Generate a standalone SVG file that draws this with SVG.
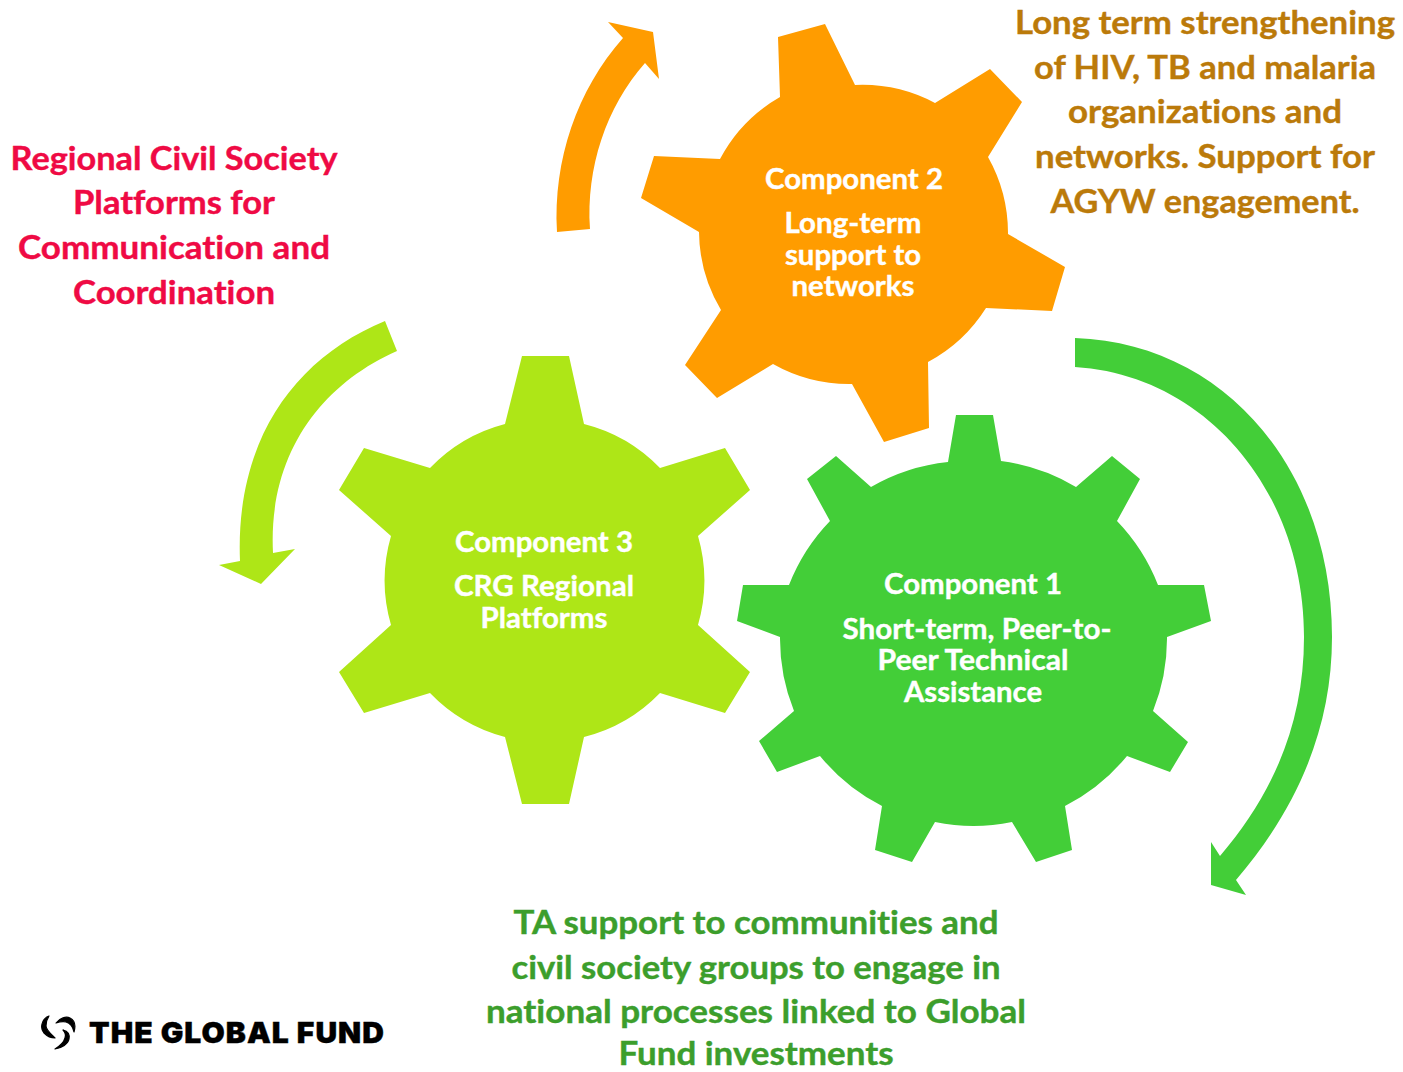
<svg xmlns="http://www.w3.org/2000/svg" width="1403" height="1072" viewBox="0 0 1403 1072">
<style>
text{font-family:"Lato","Carlito","Liberation Sans",sans-serif;font-weight:700;text-anchor:middle;font-variant-ligatures:none;stroke-width:.4px}
.g{font-size:28px;fill:#fff;stroke:#fff}
.l{font-size:32px}
.o{fill:#ff9c00}.d{fill:#43ce38}.y{fill:#aee617}
.to{fill:#bb7a0a;stroke:#bb7a0a}.tr{fill:#ef0a44;stroke:#ef0a44}.tg{fill:#3c9e2c;stroke:#3c9e2c}
.m{fill:#000;stroke:#000;stroke-width:1.2px;stroke-linejoin:round}
</style>
<rect width="1403" height="1072" fill="#fff"/>
<g id="connectors">
<path class="o" d="M557 232C553 160 577 90 623 38L608 22L653 32L659 79L645 63C606 107 586 168 590 229Z"/>
<path class="d" d="M1075 338C1225 343 1332 470 1332 637C1332 730 1296 810 1236 880L1246 895L1211 885L1211 842L1220 856C1272 795 1304 725 1304 637C1304 490 1205 375 1075 367Z"/>
<path class="y" d="M385 321C295 358 235 440 240 561L219 565L261 584L295 549L273 553C268 455 320 385 397 351Z"/>
</g>
<g id="component2">
<path class="o" d="M778 37L825 24L855 85A155 155 0 0 1 935 103L990 69L1022 102L988 157A155 155 0 0 1 1008 234L1065 267L1052 311L986 308A155 155 0 0 1 928 362L929 428L884 442L852 384A155 155 0 0 1 773 364L717 398L685 365L721 310A155 155 0 0 1 699 232L641 198L654 156L720 159A155 155 0 0 1 780 97Z"/>
<text class="g" x="854" y="189" textLength="178" lengthAdjust="spacingAndGlyphs">Component 2</text>
<text class="g" x="853" y="233" textLength="137" lengthAdjust="spacingAndGlyphs">Long-term</text>
<text class="g" x="853" y="265" textLength="136" lengthAdjust="spacingAndGlyphs">support to</text>
<text class="g" x="853" y="296" textLength="123" lengthAdjust="spacingAndGlyphs">networks</text>
</g>
<g id="component1">
<path class="d" d="M956 415L993 415L1001 461A194 194 0 0 1 1076 487L1112 456L1140 479L1117 521A194 194 0 0 1 1158 585L1204 585L1211 621L1167 637A194 194 0 0 1 1153 711L1188 742L1170 772L1127 756A194 194 0 0 1 1065 806L1072 850L1036 862L1012 822A194 194 0 0 1 935 822L912 862L875 850L882 806A194 194 0 0 1 820 756L777 772L759 741L794 711A194 194 0 0 1 780 637L737 621L743 585L789 585A194 194 0 0 1 830 521L807 479L836 456L871 487A194 194 0 0 1 948 462Z"/>
<text class="g" x="973" y="594" textLength="178" lengthAdjust="spacingAndGlyphs">Component 1</text>
<text class="g" x="977" y="639" textLength="269" lengthAdjust="spacingAndGlyphs">Short-term, Peer-to-</text>
<text class="g" x="973" y="670" textLength="191" lengthAdjust="spacingAndGlyphs">Peer Technical</text>
<text class="g" x="973" y="702" textLength="138" lengthAdjust="spacingAndGlyphs">Assistance</text>
</g>
<g id="component3">
<path class="y" d="M522 356L569 356L584 424A160 160 0 0 1 660 468L725 448L750 490L698 536A160 160 0 0 1 698 625L750 672L725 713L660 693A160 160 0 0 1 584 737L569 804L522 804L505 737A160 160 0 0 1 430 693L364 713L339 672L391 625A160 160 0 0 1 391 536L339 490L364 448L430 468A160 160 0 0 1 505 424Z"/>
<text class="g" x="544" y="552" textLength="178" lengthAdjust="spacingAndGlyphs">Component 3</text>
<text class="g" x="544" y="596" textLength="180" lengthAdjust="spacingAndGlyphs">CRG Regional</text>
<text class="g" x="544" y="628" textLength="127" lengthAdjust="spacingAndGlyphs">Platforms</text>
</g>
<g id="label-regional">
<text class="l tr" x="174" y="170" textLength="327" lengthAdjust="spacingAndGlyphs">Regional Civil Society</text>
<text class="l tr" x="174" y="214" textLength="202" lengthAdjust="spacingAndGlyphs">Platforms for</text>
<text class="l tr" x="174" y="259" textLength="312" lengthAdjust="spacingAndGlyphs">Communication and</text>
<text class="l tr" x="174" y="304" textLength="202" lengthAdjust="spacingAndGlyphs">Coordination</text>
</g>
<g id="label-longterm">
<text class="l to" x="1205" y="34" textLength="380" lengthAdjust="spacingAndGlyphs">Long term strengthening</text>
<text class="l to" x="1205" y="79" textLength="342" lengthAdjust="spacingAndGlyphs">of HIV, TB and malaria</text>
<text class="l to" x="1205" y="123" textLength="274" lengthAdjust="spacingAndGlyphs">organizations and</text>
<text class="l to" x="1205" y="168" textLength="340" lengthAdjust="spacingAndGlyphs">networks. Support for</text>
<text class="l to" x="1205" y="213" textLength="309" lengthAdjust="spacingAndGlyphs">AGYW engagement.</text>
</g>
<g id="label-ta">
<text class="l tg" x="756" y="934" textLength="485" lengthAdjust="spacingAndGlyphs">TA support to communities and</text>
<text class="l tg" x="756" y="979" textLength="489" lengthAdjust="spacingAndGlyphs">civil society groups to engage in</text>
<text class="l tg" x="756" y="1023" textLength="540" lengthAdjust="spacingAndGlyphs">national processes linked to Global</text>
<text class="l tg" x="756" y="1065" textLength="275" lengthAdjust="spacingAndGlyphs">Fund investments</text>
</g>
<g id="logo">
<path class="m" d="M49 1016C41 1019 40 1029 44 1033C47 1036 51 1038 55 1038C51 1034 46 1030 46 1026C46 1022 47 1019 49 1016Z"/>
<path class="m" d="M56 1023C60 1018 66 1016 70 1018C74 1020 76 1025 74 1032C73 1027 70 1023 66 1022C62 1021 59 1022 56 1023Z"/>
<path class="m" d="M63 1030C67 1031 70 1034 69 1039C68 1044 62 1048 55 1049C60 1046 64 1042 65 1038C66 1035 65 1032 63 1030Z"/>
<text x="237" y="1043" style="font-family:Inter,'Liberation Sans',sans-serif;font-weight:900;font-size:29px;letter-spacing:1px;fill:#000;stroke:#000;stroke-width:.4px" textLength="296" lengthAdjust="spacingAndGlyphs">THE GLOBAL FUND</text>
</g>
</svg>
